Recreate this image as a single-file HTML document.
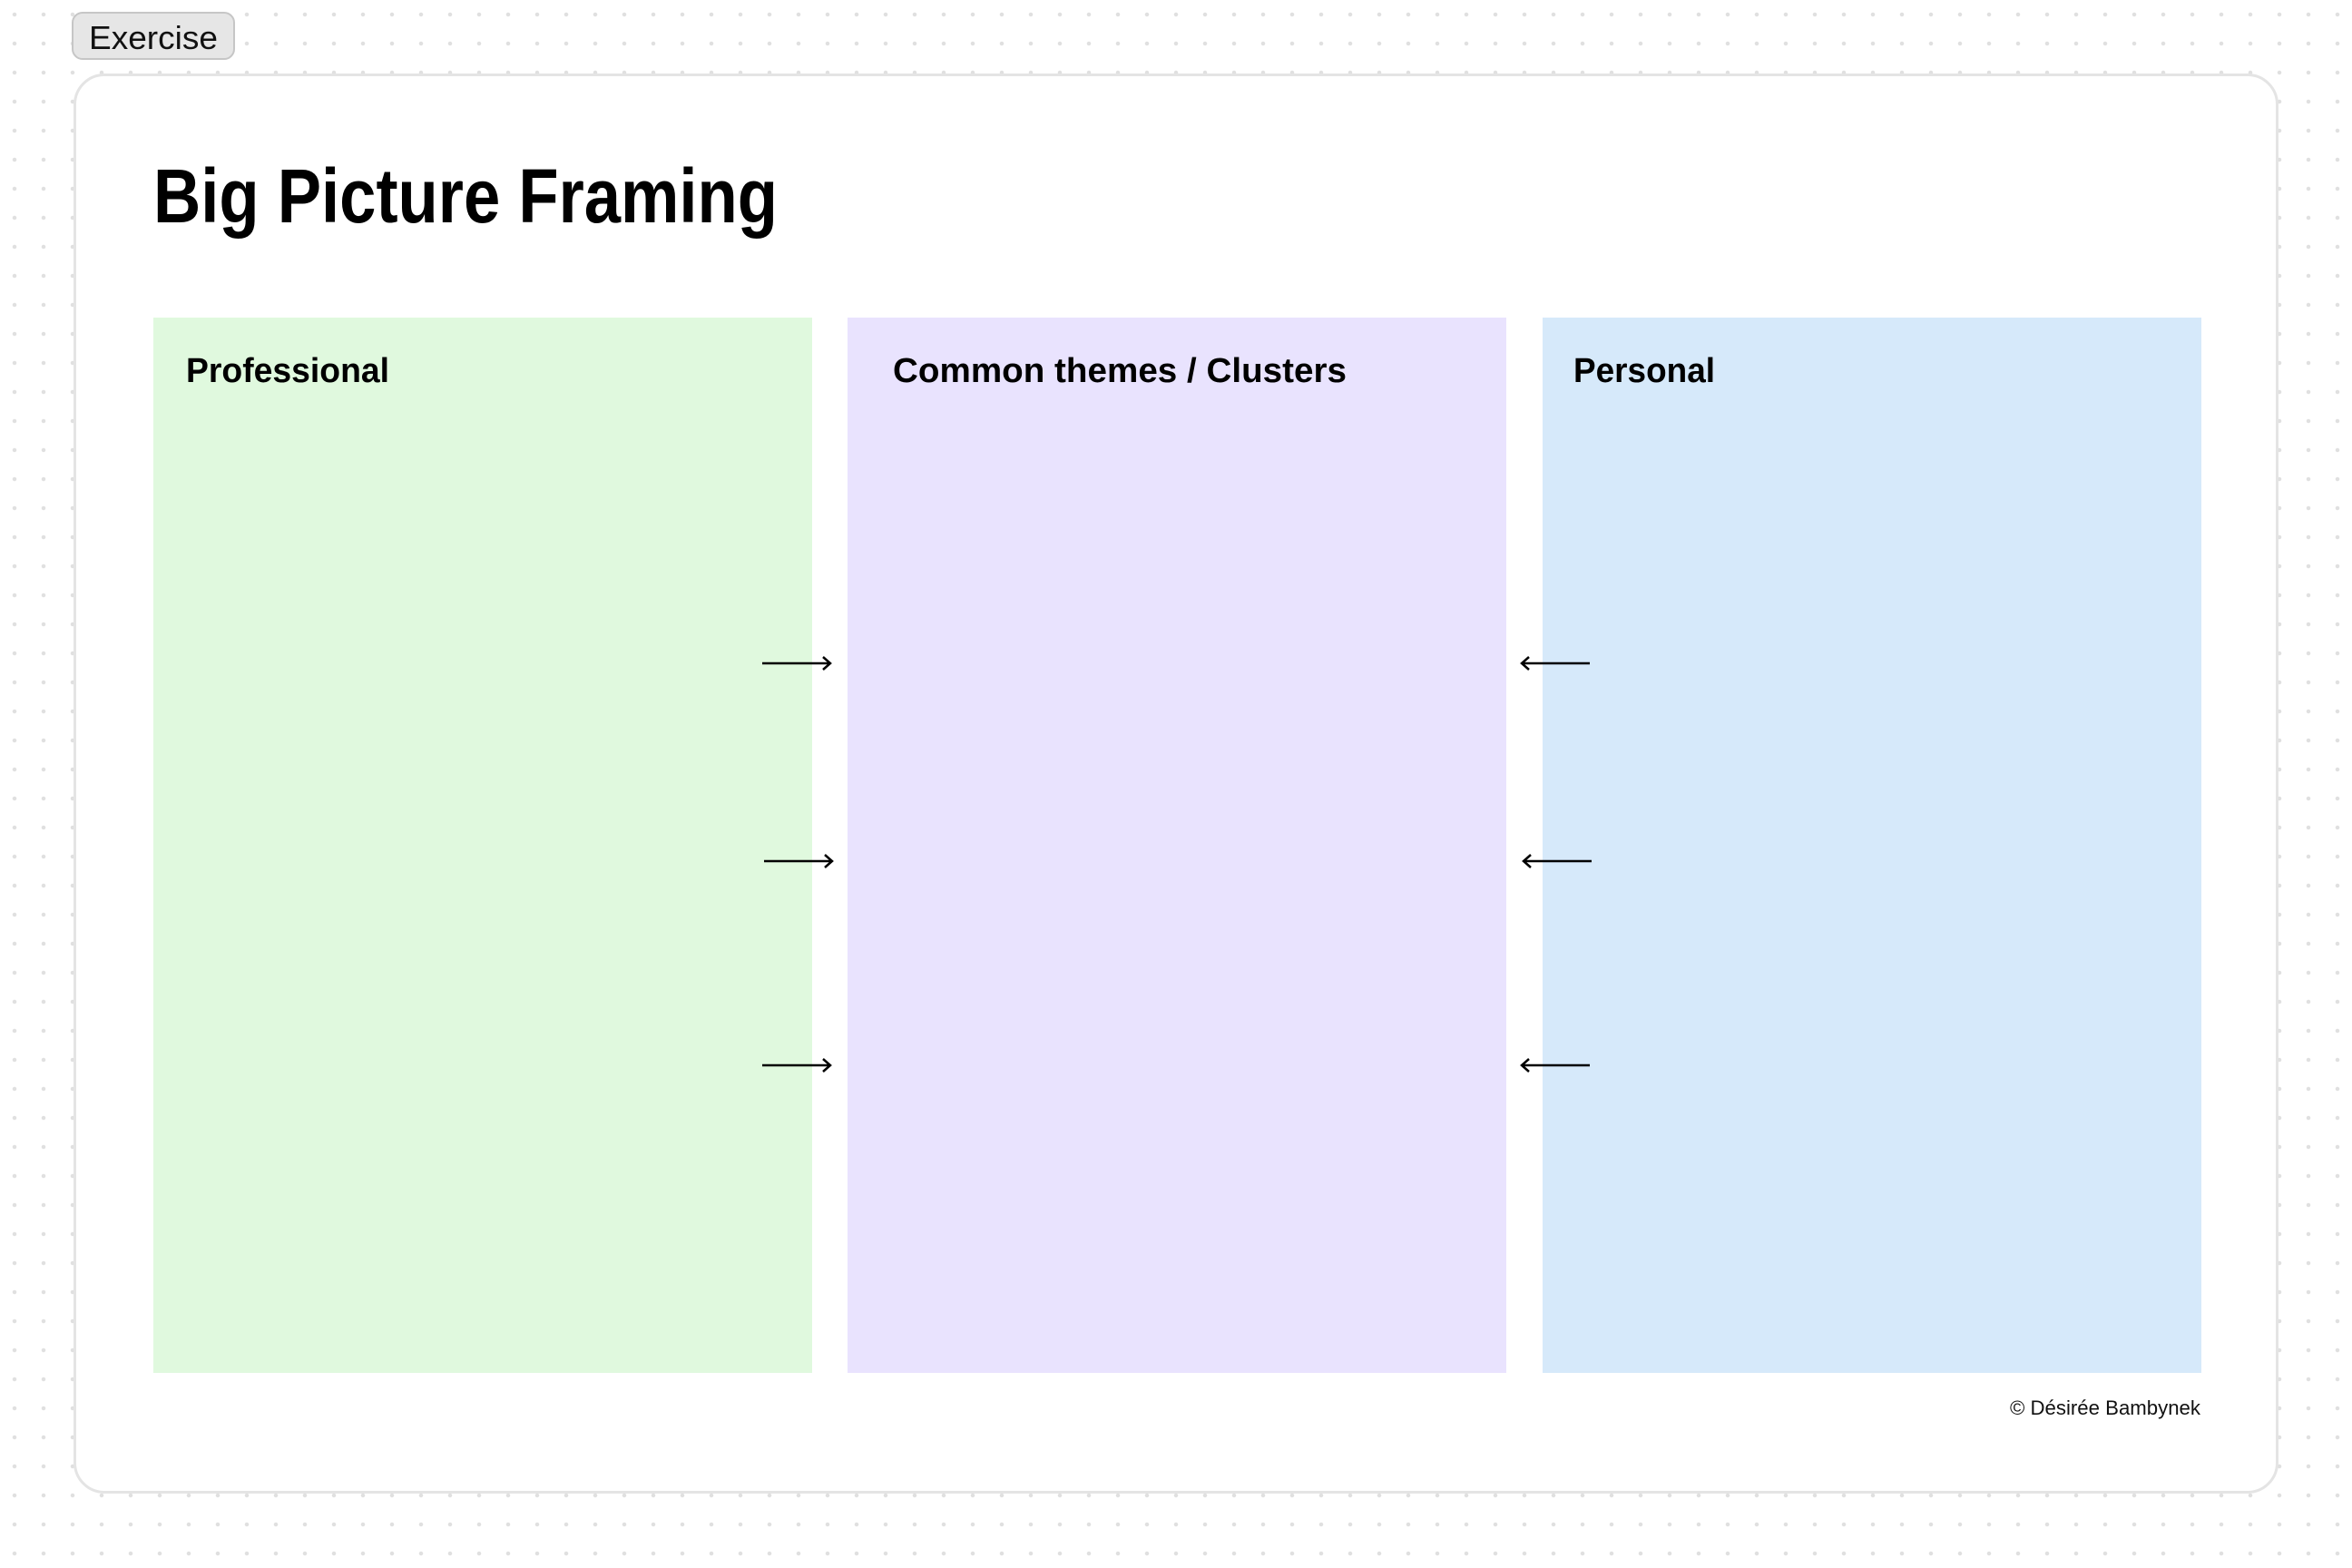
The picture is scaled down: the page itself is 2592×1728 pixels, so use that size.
<!DOCTYPE html>
<html><head><meta charset="utf-8"><style>
html,body{margin:0;padding:0}
body{width:2592px;height:1728px;position:relative;overflow:hidden;background-color:#fff;
background-image:radial-gradient(circle,#e0e0e0 2px,transparent 2.5px);background-size:32px 32px;background-position:0 0;font-family:"Liberation Sans",sans-serif}
.btn{position:absolute;left:79px;top:13px;width:180px;height:53px;background:#e6e6e6;border:2px solid #c6c6c6;border-radius:12px;box-sizing:border-box}
.card{position:absolute;left:81px;top:81px;width:2430px;height:1565px;background:#fff;border:3px solid #e4e4e4;border-radius:34px;box-sizing:border-box}
.col{position:absolute;top:350px;height:1163px;width:726px}
svg{position:absolute;left:0;top:0}
</style></head><body>
<div class="btn"></div>
<div class="card"></div>
<div class="col" style="left:169px;background:#e0f9de"></div>
<div class="col" style="left:934px;background:#e9e3fe"></div>
<div class="col" style="left:1700px;background:#d6e9fa"></div>
<svg width="2592" height="1728" font-family="Liberation Sans, sans-serif">
<text x="98" y="54" font-size="36" textLength="142" lengthAdjust="spacingAndGlyphs" fill="#111">Exercise</text>
<text x="169" y="245" font-size="84" font-weight="bold" textLength="688" lengthAdjust="spacingAndGlyphs" fill="#000">Big Picture Framing</text>
<text x="205" y="421" font-size="38" font-weight="bold" textLength="224" lengthAdjust="spacingAndGlyphs" fill="#000">Professional</text>
<text x="984" y="421" font-size="38" font-weight="bold" textLength="500" lengthAdjust="spacingAndGlyphs" fill="#000">Common themes / Clusters</text>
<text x="1734" y="421" font-size="38" font-weight="bold" textLength="156" lengthAdjust="spacingAndGlyphs" fill="#000">Personal</text>
<text x="2215" y="1559" font-size="22" textLength="210" lengthAdjust="spacingAndGlyphs" fill="#111">© Désirée Bambynek</text>
<g stroke="#000" stroke-width="2.5" fill="none">
<path d="M840 731H915M907 724L915 731L907 738"/>
<path d="M842 949H917M909 942L917 949L909 956"/>
<path d="M840 1174H915M907 1167L915 1174L907 1181"/>
<path d="M1752 731H1677M1685 724L1677 731L1685 738"/>
<path d="M1754 949H1679M1687 942L1679 949L1687 956"/>
<path d="M1752 1174H1677M1685 1167L1677 1174L1685 1181"/>
</g>
</svg>
</body></html>
